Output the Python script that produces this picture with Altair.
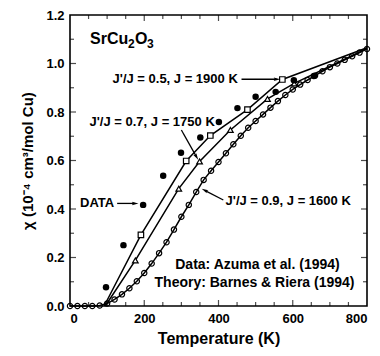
import altair as alt
import pandas as pd

# ---- data ----
data_T   = [97, 144, 197, 251, 299, 351, 401, 451, 500, 554, 603, 657]
data_chi = [0.077, 0.251, 0.417, 0.537, 0.632, 0.695, 0.759, 0.816, 0.863, 0.883, 0.931, 0.948]

# J'/J = 0.5, J = 1900 K (squares)
a_T   = [92, 191, 313, 378, 478, 572, 800]
a_chi = [0.0, 0.293, 0.598, 0.703, 0.810, 0.934, 1.065]

# J'/J = 0.7, J = 1750 K (triangles)
b_T   = [95, 176, 293, 349, 432, 532, 604, 800]
b_chi = [0.0, 0.188, 0.484, 0.596, 0.726, 0.854, 0.918, 1.062]

# J'/J = 0.9, J = 1600 K (circles)
c_T   = [0, 20, 40, 60, 80, 100, 120, 140, 160, 180, 200, 220, 240, 260, 280, 300,
         320, 340, 360, 380, 400, 420, 440, 460, 480, 500, 520, 540, 560, 580, 600,
         620, 640, 660, 680, 700, 720, 740, 760, 780, 800]
c_chi = [0.0, 0.0, 0.0, 0.0, 0.002, 0.01, 0.027, 0.048, 0.073, 0.102, 0.136, 0.175,
         0.218, 0.263, 0.315, 0.368, 0.417, 0.47, 0.52, 0.558, 0.594, 0.63, 0.667,
         0.702, 0.735, 0.763, 0.79, 0.818, 0.845, 0.87, 0.893, 0.913, 0.932, 0.95,
         0.968, 0.985, 1.0, 1.015, 1.03, 1.045, 1.06]

x_labels = [0, 200, 400, 600, 800]
y_labels = [0.0, 0.2, 0.4, 0.6, 0.8, 1.0, 1.2]
x_ticks_major = [200, 400, 600]
x_ticks_minor = [50, 100, 150, 250, 300, 350, 450, 500, 550, 650, 700, 750]
y_ticks_major = [0.2, 0.4, 0.6, 0.8, 1.0]
y_ticks_minor = [0.1, 0.3, 0.5, 0.7, 0.9, 1.1]

FONT = "Liberation Sans"
BLACK = "#000000"

xs = alt.Scale(domain=[0, 800], nice=False)
ys = alt.Scale(domain=[0, 1.2], nice=False)

df_data = pd.DataFrame({"T": data_T, "chi": data_chi})
df_a = pd.DataFrame({"T": a_T, "chi": a_chi})
df_b = pd.DataFrame({"T": b_T, "chi": b_chi})
df_c = pd.DataFrame({"T": c_T, "chi": c_chi})

X = alt.X("T:Q", scale=xs, axis=alt.Axis(values=x_labels, title="Temperature (K)", ticks=False,
                                           domain=False, grid=False, labelFont=FONT, labelFontSize=13,
                                           labelFontWeight="bold", labelPadding=6, titleFont=FONT,
                                           titleFontSize=16, titleFontWeight="bold", titlePadding=5,
                                           labelColor=BLACK, titleColor=BLACK))
Y = alt.Y("chi:Q", scale=ys, axis=alt.Axis(values=y_labels, format=".1f",
                                             title="χ (10⁻⁴ cm³/mol Cu)", ticks=False, domain=False,
                                             grid=False, labelFont=FONT, labelFontSize=13,
                                             labelFontWeight="bold", labelPadding=6, titleFont=FONT,
                                             titleFontSize=15, titleFontWeight="bold", titlePadding=10,
                                             labelColor=BLACK, titleColor=BLACK))
Xn = alt.X("T:Q", scale=xs)
Yn = alt.Y("chi:Q", scale=ys)

line_a = alt.Chart(df_a).mark_line(color=BLACK, strokeWidth=1.5).encode(x=X, y=Y)
line_b = alt.Chart(df_b).mark_line(color=BLACK, strokeWidth=1.5).encode(x=Xn, y=Yn)
line_c = alt.Chart(df_c).mark_line(color=BLACK, strokeWidth=1.5).encode(x=Xn, y=Yn)

pts_a = alt.Chart(df_a.iloc[1:-1]).mark_point(shape="square", filled=True, fill="white",
                                               stroke=BLACK, strokeWidth=1.2, size=30, opacity=1
                                               ).encode(x=Xn, y=Yn)
pts_b = alt.Chart(df_b.iloc[1:-1]).mark_point(shape="triangle-up", filled=True, fill="white",
                                               stroke=BLACK, strokeWidth=1.2, size=32, opacity=1
                                               ).encode(x=Xn, y=Yn)
pts_c = alt.Chart(df_c).mark_point(shape="circle", filled=False, stroke=BLACK, strokeWidth=1.2,
                                   size=28, opacity=1).encode(x=Xn, y=Yn)
pts_d = alt.Chart(df_data).mark_circle(color=BLACK, size=42, opacity=1).encode(x=Xn, y=Yn)

# ---- inward ticks on all four sides ----
def vticks(vals, at, length, sign):
    return alt.Chart(pd.DataFrame({"T": vals})).mark_tick(
        orient="vertical", size=length, thickness=1.2, color=BLACK, yOffset=sign * length / 2
    ).encode(x=Xn, y=alt.datum(at, scale=ys))

def hticks(vals, at, length, sign):
    return alt.Chart(pd.DataFrame({"chi": vals})).mark_tick(
        orient="horizontal", size=length, thickness=1.2, color=BLACK, xOffset=sign * length / 2
    ).encode(y=Yn, x=alt.datum(at, scale=xs))

ticks = [
    vticks(x_ticks_major, 0, 6, -1), vticks(x_ticks_minor, 0, 4, -1),
    vticks(x_ticks_major, 1.2, 6, 1), vticks(x_ticks_minor, 1.2, 4, 1),
    hticks(y_ticks_major, 0, 6, 1), hticks(y_ticks_minor, 0, 4, 1),
    hticks(y_ticks_major, 800, 6, -1), hticks(y_ticks_minor, 800, 4, -1),
]

# ---- annotations ----
def label(text, T, chi, align, size=13, dx=0, dy=0):
    return alt.Chart().mark_text(text=text, align=align, baseline="middle", font=FONT,
                                 fontSize=size, fontWeight="bold", color=BLACK, dx=dx, dy=dy
                                 ).encode(x=alt.datum(T, scale=xs), y=alt.datum(chi, scale=ys))

texts = [
    label("SrCu", 54, 1.10, "left", 16),
    label("2", 54, 1.10, "left", 12, dx=38, dy=5),
    label("O", 54, 1.10, "left", 16, dx=45),
    label("3", 54, 1.10, "left", 12, dx=57, dy=5),
    label("J'/J = 0.5, J = 1900 K", 452, 0.935, "right"),
    label("J'/J = 0.7, J = 1750 K", 390, 0.758, "right"),
    label("DATA", 27, 0.423, "left"),
    label("J'/J = 0.9, J = 1600 K", 419, 0.431, "left"),
    label("Data: Azuma et al. (1994)", 505, 0.169, "center", 14),
    label("Theory: Barnes & Riera (1994)", 497, 0.093, "center", 14),
]

arrows = pd.DataFrame({
    "x": [462, 300, 127, 413],
    "y": [0.935, 0.726, 0.423, 0.437],
    "x2": [556, 340, 174, 364],
    "y2": [0.935, 0.617, 0.423, 0.476],
    "ang": [90, 149, 90, 297],
})
arrow_lines = alt.Chart(arrows).mark_rule(color=BLACK, strokeWidth=1.3).encode(
    x=alt.X("x:Q", scale=xs), y=alt.Y("y:Q", scale=ys),
    x2="x2:Q", y2="y2:Q")
arrow_heads = alt.Chart(arrows).mark_point(
    shape="M0,-1L0.45,0.7L0,0.4L-0.45,0.7Z", filled=True, color=BLACK, size=60, opacity=1
).encode(x=alt.X("x2:Q", scale=xs), y=alt.Y("y2:Q", scale=ys),
         angle=alt.Angle("ang:Q", scale=None))

chart = alt.layer(
    line_a, line_b, line_c, pts_c, pts_a, pts_b, pts_d,
    *ticks, arrow_lines, arrow_heads, *texts
).properties(
    width=297, height=291,
    autosize=alt.AutoSizeParams(type="none"),
    padding={"left": 62, "top": 7, "right": 5, "bottom": 42},
    background="white",
).configure_view(stroke=BLACK, strokeWidth=1.6)

chart.save("out.html", embed_options={"renderer": "svg", "actions": False})
